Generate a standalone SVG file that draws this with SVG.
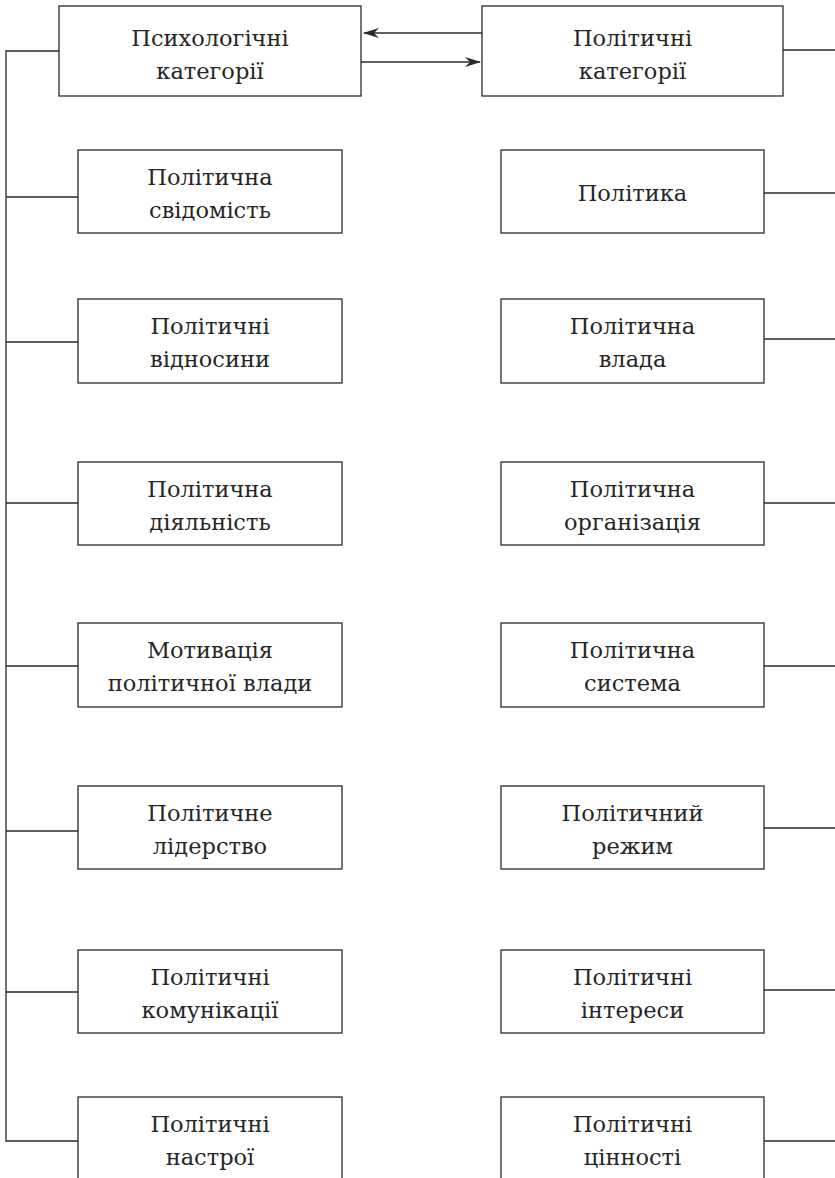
<svg xmlns="http://www.w3.org/2000/svg" width="835" height="1178" viewBox="0 0 835 1178">
  <style>
    .box { fill: #ffffff; stroke: #2a2a2a; stroke-width: 1.3; }
    .ln { fill: none; stroke: #2a2a2a; stroke-width: 1.3; }
    .t { font-family: "DejaVu Serif", "Liberation Serif", serif; font-size: 22.5px; fill: #262626; text-anchor: middle; }
  </style>
  <defs>
    <marker id="arrow" viewBox="0 0 16 10" refX="15" refY="5" markerWidth="16" markerHeight="10" markerUnits="userSpaceOnUse" orient="auto">
      <path d="M0,0 L16,5 L0,10 L5,5 Z" fill="#2a2a2a"/>
    </marker>
  </defs>
  <rect width="835" height="1178" fill="#ffffff"/>

  <!-- connectors -->
  <g id="connectors">
    <path class="ln" d="M59,51 H6 V1141 H78"/>
    <path class="ln" d="M6,197 H78 M6,342 H78 M6,503 H78 M6,666 H78 M6,831 H78 M6,992 H78"/>
    <path class="ln" d="M783,50 H835 M764,193 H835 M764,339 H835 M764,503 H835 M764,666 H835 M764,828 H835 M764,990 H835 M764,1141 H835"/>
    <line class="ln" x1="482" y1="33" x2="364" y2="33" marker-end="url(#arrow)"/>
    <line class="ln" x1="361" y1="62" x2="480" y2="62" marker-end="url(#arrow)"/>
  </g>

  <!-- top row -->
  <g id="psych-categories">
    <rect class="box" x="59" y="6" width="302" height="90"/>
    <text class="t" x="210" y="46">Психологічні</text>
    <text class="t" x="210" y="79">категорії</text>
  </g>
  <g id="polit-categories">
    <rect class="box" x="482" y="6" width="301" height="90"/>
    <text class="t" x="632.5" y="46">Політичні</text>
    <text class="t" x="632.5" y="79">категорії</text>
  </g>

  <!-- left column -->
  <g id="l1">
    <rect class="box" x="78" y="150" width="264" height="83"/>
    <text class="t" x="210" y="185">Політична</text>
    <text class="t" x="210" y="218">свідомість</text>
  </g>
  <g id="l2">
    <rect class="box" x="78" y="299" width="264" height="84"/>
    <text class="t" x="210" y="334">Політичні</text>
    <text class="t" x="210" y="367">відносини</text>
  </g>
  <g id="l3">
    <rect class="box" x="78" y="462" width="264" height="83"/>
    <text class="t" x="210" y="497">Політична</text>
    <text class="t" x="210" y="530">діяльність</text>
  </g>
  <g id="l4">
    <rect class="box" x="78" y="623" width="264" height="84"/>
    <text class="t" x="210" y="658">Мотивація</text>
    <text class="t" x="210" y="691">політичної влади</text>
  </g>
  <g id="l5">
    <rect class="box" x="78" y="786" width="264" height="83"/>
    <text class="t" x="210" y="821">Політичне</text>
    <text class="t" x="210" y="854">лідерство</text>
  </g>
  <g id="l6">
    <rect class="box" x="78" y="950" width="264" height="83"/>
    <text class="t" x="210" y="985">Політичні</text>
    <text class="t" x="210" y="1018">комунікації</text>
  </g>
  <g id="l7">
    <rect class="box" x="78" y="1097" width="264" height="100"/>
    <text class="t" x="210" y="1132">Політичні</text>
    <text class="t" x="210" y="1165">настрої</text>
  </g>

  <!-- right column -->
  <g id="r1">
    <rect class="box" x="501" y="150" width="263" height="83"/>
    <text class="t" x="632.5" y="201">Політика</text>
  </g>
  <g id="r2">
    <rect class="box" x="501" y="299" width="263" height="84"/>
    <text class="t" x="632.5" y="334">Політична</text>
    <text class="t" x="632.5" y="367">влада</text>
  </g>
  <g id="r3">
    <rect class="box" x="501" y="462" width="263" height="83"/>
    <text class="t" x="632.5" y="497">Політична</text>
    <text class="t" x="632.5" y="530">організація</text>
  </g>
  <g id="r4">
    <rect class="box" x="501" y="623" width="263" height="84"/>
    <text class="t" x="632.5" y="658">Політична</text>
    <text class="t" x="632.5" y="691">система</text>
  </g>
  <g id="r5">
    <rect class="box" x="501" y="786" width="263" height="83"/>
    <text class="t" x="632.5" y="821">Політичний</text>
    <text class="t" x="632.5" y="854">режим</text>
  </g>
  <g id="r6">
    <rect class="box" x="501" y="950" width="263" height="83"/>
    <text class="t" x="632.5" y="985">Політичні</text>
    <text class="t" x="632.5" y="1018">інтереси</text>
  </g>
  <g id="r7">
    <rect class="box" x="501" y="1097" width="263" height="100"/>
    <text class="t" x="632.5" y="1132">Політичні</text>
    <text class="t" x="632.5" y="1165">цінності</text>
  </g>
</svg>
